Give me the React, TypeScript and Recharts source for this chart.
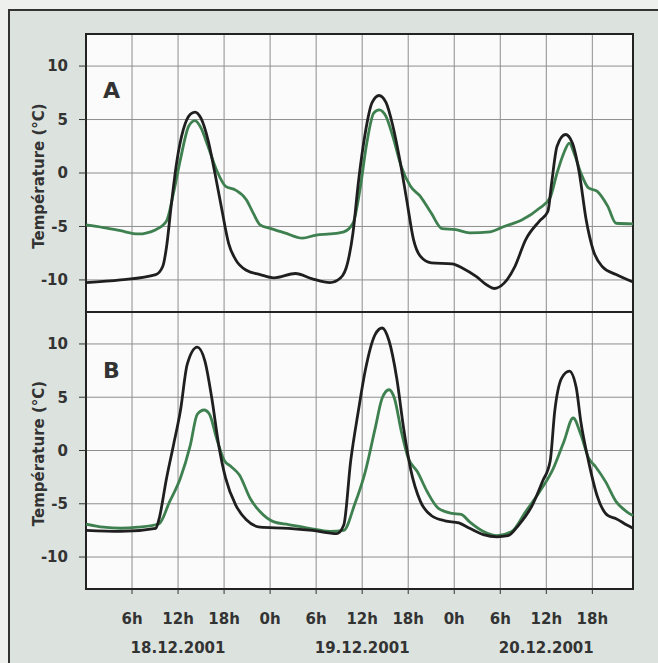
import { LineChart, Line, XAxis, YAxis, CartesianGrid, ReferenceArea, Label } from 'recharts';

// [hour since 18.12.2001 0h, temperature °C]
const aDark = [
  [0, -10.25], [4.5, -10.0], [9.1, -9.5], [10, -8.75], [10.5, -6.9], [11.1, -3.1], [11.8, 0.9], [12.7, 4.1],
  [13.6, 5.5], [14.2, 5.7], [15, 5.1], [15.9, 3.1], [16.8, 0], [17.7, -3.4], [18.6, -6.6], [19.5, -8.1],
  [20.9, -9.1], [22.7, -9.5], [24.5, -9.8], [27.3, -9.4], [29.5, -9.9], [31.8, -10.25], [33.2, -9.8],
  [34.1, -8.4], [34.8, -5.6], [35.5, -0.9], [36.4, 3.75], [37.3, 6.6], [38.2, 7.25], [39.1, 6.6], [40, 4.4],
  [40.9, 1.25], [41.8, -2.5], [42.7, -6.25], [43.6, -7.8], [45, -8.4], [47.7, -8.5], [49.1, -8.9],
  [50.9, -9.7], [52.3, -10.5], [53.2, -10.8], [54.5, -10.3], [55.9, -8.75], [57.3, -6.25], [59.1, -4.5],
  [60.2, -3.6], [60.7, -0.9], [61.4, 2.5], [62.5, 3.6], [63.4, 2.8], [64.3, 0], [65.2, -4.4], [66.1, -7.2],
  [67.3, -8.75], [69.1, -9.5], [71.3, -10.2],
];
const aGreen = [
  [0, -4.85], [2.3, -5.1], [4.5, -5.4], [6.8, -5.7], [9.1, -5.3], [10.5, -4.5], [11.4, -1.9], [12.3, 1.25],
  [13.4, 4.4], [14.2, 4.9], [15, 4.2], [15.9, 2.5], [17, 0.3], [18.2, -1.25], [19.5, -1.6], [20.9, -2.5],
  [21.8, -3.75], [22.7, -4.85], [24.1, -5.2], [25.9, -5.6], [28.2, -6.1], [30, -5.8], [31.8, -5.7],
  [33.6, -5.5], [34.8, -4.7], [35.7, -1.6], [36.6, 2.8], [37.5, 5.6], [38.2, 5.9], [39.1, 5.3], [40, 3.4],
  [41.1, 0.6], [42.3, -1.25], [43.6, -2.2], [45, -3.75], [46.4, -5.2], [48.2, -5.3], [50, -5.6],
  [52.7, -5.5], [54.5, -5.0], [56.8, -4.4], [59.1, -3.3], [60.5, -2.3], [61.4, 0], [62.3, 1.9], [63, 2.8],
  [63.6, 1.9], [64.5, 0], [65.5, -1.4], [66.6, -1.7], [68, -3.1], [69.1, -4.7], [71.3, -4.75],
];
const bDark = [
  [0, -7.5], [4.5, -7.6], [9.1, -7.3], [9.5, -6.5], [10.5, -2.6], [11.4, 0.5], [12.3, 3.7], [13.2, 8.1],
  [14.5, 9.7], [15.5, 8.4], [16.4, 4.9], [17.3, 0.5], [18.2, -2.6], [19.5, -5.1], [20.9, -6.5], [22.7, -7.2],
  [26.4, -7.3], [29.5, -7.5], [32.7, -7.8], [33.6, -7.0], [34.5, -1.0], [35.5, 3.7], [36.4, 7.5],
  [37.7, 10.9], [38.6, 11.5], [39.5, 10.3], [40.5, 6.8], [41.4, 2.1], [42.3, -1.7], [43.6, -4.8], [45, -6.1],
  [46.8, -6.6], [48.6, -6.8], [50, -7.3], [51.8, -7.9], [53.6, -8.1], [55, -8.0], [56.4, -7.0], [58.2, -5.1],
  [59.5, -2.9], [60.5, -1.0], [61.1, 3.7], [62, 6.8], [63, 7.45], [63.9, 5.9], [64.5, 2.7], [65.5, -1.0],
  [66.6, -4.2], [68, -6.1], [69.1, -6.4], [70.5, -7.0], [71.3, -7.3],
];
const bGreen = [
  [0, -6.9], [2.3, -7.2], [4.5, -7.3], [6.8, -7.2], [9.5, -6.9], [10.9, -4.8], [12.3, -2.6], [13.6, 0.5],
  [14.5, 3.4], [15.4, 3.8], [16.1, 3.4], [17, 1.2], [18, -0.9], [18.9, -1.5], [20, -2.3], [21.4, -4.5],
  [22.7, -5.75], [24.5, -6.7], [26.4, -6.95], [29.1, -7.3], [31.8, -7.6], [33.6, -7.5], [35, -5.1],
  [36.4, -2.0], [37.7, 2.1], [38.6, 4.9], [39.5, 5.7], [40.2, 4.9], [41.1, 1.8], [42, -0.7], [43.2, -2.0],
  [44.5, -3.9], [45.9, -5.4], [47.7, -5.9], [48.9, -6.0], [50, -6.7], [51.8, -7.6], [53.6, -8.0],
  [55.5, -7.6], [57.3, -5.75], [59.1, -3.9], [60.9, -1.7], [62.3, 0.85], [63.5, 3.05], [64.5, 1.5],
  [65.5, -0.7], [66.4, -1.5], [67.7, -2.9], [69.1, -4.8], [70.5, -5.75], [71.3, -6.1],
];

const hourTicks = [6, 12, 18, 24, 30, 36, 42, 48, 54, 60, 66];
const tempTicks = [-10, -5, 0, 5, 10];
const dayTicks = [12, 36, 60];
const dayLabels = ['18.12.2001', '19.12.2001', '20.12.2001'];
const yTitle = 'Température (°C)';

const X_DOMAIN = [0, 71.3];
const Y_DOMAIN = [-13, 13];
const FONT = '"DejaVu Sans", Arial, sans-serif';
const DARK = '#1f1f1f';
const GREEN = '#3f8050';

const rows = (pts: number[][]) => pts.map(([h, t]) => ({ h, t }));

const YTitle = (props: any) => {
  const vb = props.viewBox || { x: 0, y: 0, width: 0, height: 0 };
  const cx = vb.x + 44;
  const cy = vb.y + vb.height / 2 + 3;
  return (
    <text x={cx} y={cy} transform={`rotate(-90, ${cx}, ${cy})`} textAnchor="middle"
      fontFamily={FONT} fontWeight="bold" fontSize={15} fill="#333">
      {yTitle}
    </text>
  );
};

const tickStyle = { fontFamily: FONT, fontWeight: 'bold', fontSize: 15, fill: '#333' };

// hour label, with the date written under the noon tick of each day
const HourTick = ({ x, y, payload }: any) => {
  const h = payload.value;
  const d = dayTicks.indexOf(h);
  return (
    <g>
      <text x={x} y={y + 11} textAnchor="middle" {...tickStyle}>{`${h % 24}h`}</text>
      {d >= 0 && (
        <text x={x} y={y + 40} textAnchor="middle" {...tickStyle}>{dayLabels[d]}</text>
      )}
    </g>
  );
};

function Panel({ dark, green, top, height, margin, bottom }: any) {
  return (
    <div style={{ position: 'absolute', left: 0, top }}>
      <LineChart width={658} height={height} margin={margin}>
        <CartesianGrid stroke="#8e8e8e" strokeWidth={1} fill="#fafbfa" />
        <XAxis dataKey="h" type="number" domain={X_DOMAIN} ticks={hourTicks} hide={!bottom}
          tick={<HourTick />} tickSize={5} tickMargin={19}
          axisLine={false} tickLine={{ stroke: '#333' }} height={73} interval={0} />
        <YAxis type="number" domain={Y_DOMAIN} ticks={tempTicks} width={86} tick={tickStyle}
          tickSize={7} tickMargin={11} axisLine={false} tickLine={{ stroke: '#333' }} interval={0}>
          <Label content={<YTitle />} />
        </YAxis>
        <Line data={rows(green)} dataKey="t" type="monotone" stroke={GREEN} strokeWidth={2.8}
          dot={false} isAnimationActive={false} />
        <Line data={rows(dark)} dataKey="t" type="monotone" stroke={DARK} strokeWidth={2.8}
          dot={false} isAnimationActive={false} />
        <ReferenceArea x1={X_DOMAIN[0]} x2={X_DOMAIN[1]} y1={Y_DOMAIN[0]} y2={Y_DOMAIN[1]}
          fill="none" stroke="#222" strokeWidth={2} />
      </LineChart>
    </div>
  );
}

export default function App() {
  return (
    <div style={{ position: 'fixed', left: 0, top: 0, width: 658, height: 663, overflow: 'hidden', background: '#eef0ee' }}>
      <div style={{ position: 'absolute', left: 8, top: 9, width: 660, height: 670, boxSizing: 'border-box',
        border: '2px solid #333', background: '#dce3df' }} />
      <Panel dark={aDark} green={aGreen} top={0} height={312} margin={{ top: 34, right: 25, bottom: 0, left: 0 }} bottom={false} />
      <Panel dark={bDark} green={bGreen} top={300} height={362} margin={{ top: 12, right: 25, bottom: 0, left: 0 }} bottom={true} />
      <svg width={658} height={663} style={{ position: 'absolute', left: 0, top: 0, pointerEvents: 'none' }}>
        <text x={103} y={98} fontFamily={FONT} fontWeight="bold" fontSize={22} fill="#333">A</text>
        <text x={103} y={378} fontFamily={FONT} fontWeight="bold" fontSize={22} fill="#333">B</text>
      </svg>
    </div>
  );
}
